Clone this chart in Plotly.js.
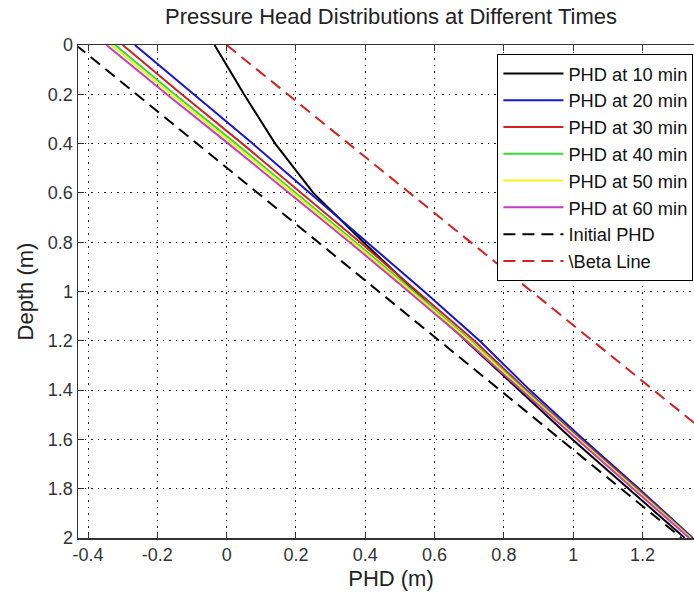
<!DOCTYPE html>
<html><head><meta charset="utf-8">
<script src="https://cdn.plot.ly/plotly-3.0.1.min.js"></script>
<style>
html,body{margin:0;padding:0;background:#fff;overflow:hidden;width:694px;height:595px}
#chart{width:720px;height:595px}
</style>
</head><body><div id="chart"></div>
<script>
// Depth sample points (m)
const depth = [0, 0.2, 0.4, 0.6, 0.8, 1.0, 1.2, 1.4, 1.6, 1.8, 2.0];
// Pressure head (m) at each depth, per time
const phd10 = [-0.035, 0.050, 0.140, 0.250, 0.395, 0.545, 0.690, 0.845, 0.998, 1.160, 1.322];
const phd20 = [-0.265, -0.095, 0.075, 0.240, 0.405, 0.570, 0.730, 0.875, 1.030, 1.190, 1.345];
const phd30 = [-0.300, -0.130, 0.045, 0.215, 0.385, 0.550, 0.715, 0.865, 1.022, 1.185, 1.342];
const phd40 = [-0.322, -0.150, 0.027, 0.200, 0.372, 0.540, 0.705, 0.860, 1.018, 1.180, 1.340];
const phd50 = [-0.333, -0.160, 0.018, 0.192, 0.365, 0.533, 0.700, 0.855, 1.015, 1.177, 1.338];
const phd60 = [-0.347, -0.173, 0.005, 0.180, 0.355, 0.525, 0.692, 0.850, 1.010, 1.173, 1.335];
// Straight reference lines
const lineDepth = [0, 2];
const initialPHD = [-0.435, 1.313];
const betaLine = [0.0, 1.76];

const seriesNames = ['PHD at 10 min', 'PHD at 20 min', 'PHD at 30 min', 'PHD at 40 min',
                     'PHD at 50 min', 'PHD at 60 min', 'Initial PHD', '\\Beta Line'];

const xTickVals = [-0.4, -0.2, 0, 0.2, 0.4, 0.6, 0.8, 1.0, 1.2];
const xTickText = ['-0.4', '-0.2', '0', '0.2', '0.4', '0.6', '0.8', '1', '1.2'];
const yTickVals = [0, 0.2, 0.4, 0.6, 0.8, 1.0, 1.2, 1.4, 1.6, 1.8, 2.0];
const yTickText = ['0', '0.2', '0.4', '0.6', '0.8', '1', '1.2', '1.4', '1.6', '1.8', '2'];

const xs = [phd10, phd20, phd30, phd40, phd50, phd60, initialPHD, betaLine];
const ys = [depth, depth, depth, depth, depth, depth, lineDepth, lineDepth];
const colors = ['#000000', '#1515d0', '#d42020', '#38d838', '#f2f21e', '#c63cc6', '#000000', '#d42020'];
const dashes = ['solid', 'solid', 'solid', 'solid', 'solid', 'solid', '12px,7px', '12px,7px'];

const traces = xs.map((x, i) => ({
  type: 'scatter', mode: 'lines', x: x, y: ys[i], name: seriesNames[i],
  line: {color: colors[i], width: 2, dash: dashes[i]}
}));

const font = 'Liberation Sans, Arial, Helvetica, sans-serif';
const axisCommon = {
  showline: true, linecolor: '#333', linewidth: 1.5, mirror: 'ticks',
  ticks: 'inside', ticklen: 6, tickcolor: '#333', tickwidth: 1,
  showgrid: true, gridcolor: '#222', gridwidth: 1, griddash: '1.5px,5px',
  zeroline: false, tickfont: {family: font, size: 18, color: '#333'}
};

const layout = {
  width: 720, height: 595,
  margin: {l: 78, r: 16, t: 45, b: 57},
  paper_bgcolor: '#fff', plot_bgcolor: '#fff',
  font: {family: font, color: '#222'},
  title: {text: 'Pressure Head Distributions at Different Times', font: {family: font, size: 22, color: '#222'},
          xref: 'paper', x: 0.5, xanchor: 'center', yref: 'container', y: 1 - 16/595, yanchor: 'middle'},
  xaxis: Object.assign({}, axisCommon, {
    range: [-0.429, 1.3775], tickmode: 'array', tickvals: xTickVals, ticktext: xTickText,
    title: {text: 'PHD (m)', font: {family: font, size: 22, color: '#222'}, standoff: 6}
  }),
  yaxis: Object.assign({}, axisCommon, {
    range: [2, 0], tickmode: 'array', tickvals: yTickVals, ticktext: yTickText,
    title: {text: 'Depth (m)', font: {family: font, size: 22, color: '#222'}, standoff: 8}
  }),
  showlegend: true,
  legend: {
    x: 0.670, y: 0.9817, xanchor: 'left', yanchor: 'top',
    bgcolor: '#fff', bordercolor: '#000', borderwidth: 1,
    font: {family: font, size: 18.3, color: '#111'},
    itemwidth: 60, tracegroupgap: 0
  }
};

Plotly.newPlot('chart', traces, layout, {displayModeBar: false, staticPlot: true});
</script>
</body></html>
